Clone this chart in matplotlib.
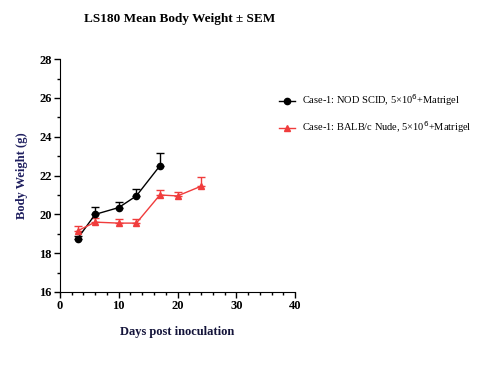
import matplotlib.pyplot as plt
from matplotlib.ticker import MultipleLocator

plt.rcParams['font.family'] = ['Liberation Serif', 'DejaVu Serif']

# Case-1: NOD SCID
nod_days = [3, 6, 10, 13, 17]
nod_mean = [18.75, 20.0, 20.35, 20.95, 22.5]
nod_sem = [0.15, 0.38, 0.3, 0.37, 0.65]

# Case-1: BALB/c Nude
balb_days = [3, 6, 10, 13, 17, 20, 24]
balb_mean = [19.15, 19.6, 19.55, 19.55, 21.0, 20.95, 21.45]
balb_sem = [0.25, 0.2, 0.22, 0.2, 0.25, 0.2, 0.5]

fig = plt.figure(figsize=(4.83, 3.65), dpi=100)
ax = fig.add_axes([0.124, 0.2, 0.487, 0.638])

nod = ax.errorbar(nod_days, nod_mean, yerr=[[0] * len(nod_sem), nod_sem], color='black',
                  marker='o', markersize=4.5, linewidth=1, elinewidth=1, capsize=3)
balb = ax.errorbar(balb_days, balb_mean, yerr=[[0] * len(balb_sem), balb_sem], color='#f03c3c',
                   marker='^', markersize=4.5, linewidth=1, elinewidth=1, capsize=3)

ax.set_xlim(0, 40)
ax.set_ylim(16, 28)
ax.xaxis.set_major_locator(MultipleLocator(10))
ax.xaxis.set_minor_locator(MultipleLocator(2))
ax.yaxis.set_major_locator(MultipleLocator(2))
ax.yaxis.set_minor_locator(MultipleLocator(1))
ax.spines['top'].set_visible(False)
ax.spines['right'].set_visible(False)
ax.tick_params(which='major', length=4, width=1, labelsize=9, pad=2)
ax.tick_params(which='minor', length=2, width=1)
for lab in ax.get_xticklabels() + ax.get_yticklabels():
    lab.set_fontweight('bold')

ax.set_xlabel('Days post inoculation', fontsize=9, fontweight='bold', color='#14143a', labelpad=10)
ax.set_ylabel('Body Weight (g)', fontsize=9, fontweight='bold', color='#1f1f5f', labelpad=8)
fig.text(0.372, 0.948, 'LS180 Mean Body Weight ± SEM', fontsize=9.5, fontweight='bold',
         ha='center', va='center')

ax.legend([nod[0], balb[0]],
          ['Case-1: NOD SCID, 5×10$^6$+Matrigel', 'Case-1: BALB/c Nude, 5×10$^6$+Matrigel'],
          loc='upper left', bbox_to_anchor=(0.93, 0.857), frameon=False, fontsize=7.5,
          handlelength=1.6, handletextpad=0.6, labelspacing=1.1, borderpad=0, borderaxespad=0)

fig.savefig('out.png', dpi=100)
